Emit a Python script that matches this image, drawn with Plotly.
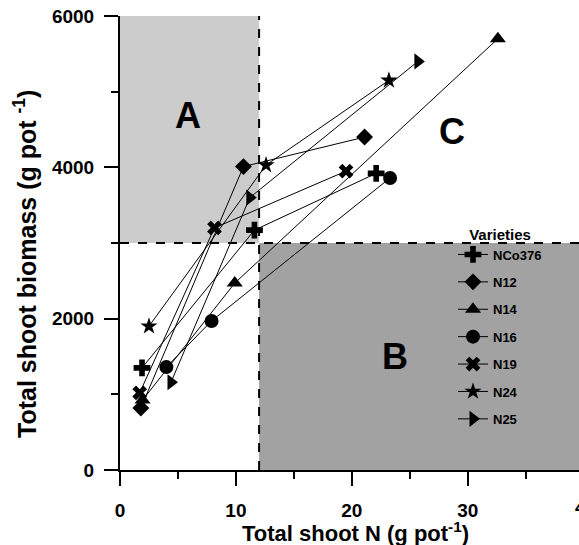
import plotly.graph_objects as go

# ---- data ----
varieties = ["NCo376", "N12", "N14", "N16", "N19", "N24", "N25"]
symbols = ["cross", "diamond", "triangle-up", "circle", "x", "star", "triangle-right"]
sizes = [14, 13, 14, 14, 13, 13, 14]
shoot_n = {
    "NCo376": [1.9, 11.6, 22.1],
    "N12": [1.8, 10.65, 21.1],
    "N14": [1.95, 9.9, 32.6],
    "N16": [4.0, 7.9, 23.3],
    "N19": [1.7, 8.15, 19.5],
    "N24": [2.5, 12.6, 23.2],
    "N25": [4.4, 11.2, 25.7],
}
biomass = {
    "NCo376": [1350, 3170, 3920],
    "N12": [820, 4010, 4400],
    "N14": [925, 2470, 5700],
    "N16": [1360, 1970, 3860],
    "N19": [1020, 3200, 3950],
    "N24": [1900, 4030, 5150],
    "N25": [1160, 3600, 5400],
}
x_ticks = [0, 10, 20, 30]
y_ticks = [0, 2000, 4000, 6000]
X_MAX = 39.6
Y_MAX = 6000
N_SPLIT = 12
B_SPLIT = 3000
region_labels = ["A", "B", "C"]
region_x = [5.9, 23.7, 28.6]
region_y = [4680, 1500, 4470]

FONT = "Liberation Sans, Arial"

fig = go.Figure()
for i, v in enumerate(varieties):
    fig.add_trace(go.Scatter(
        x=shoot_n[v], y=biomass[v], name=v, mode="lines+markers",
        line=dict(color="black", width=1),
        marker=dict(symbol=symbols[i], size=sizes[i], color="black"),
        legendgroup=v,
    ))

# shaded regions
fig.add_shape(type="rect", xref="x", yref="y", x0=0, x1=N_SPLIT, y0=B_SPLIT, y1=Y_MAX,
              fillcolor="#cccccc", line=dict(width=0), layer="below")
fig.add_shape(type="rect", xref="x", yref="y", x0=N_SPLIT, x1=X_MAX, y0=0, y1=B_SPLIT,
              fillcolor="#a2a2a2", line=dict(width=0), layer="below")
dash = dict(color="black", width=2, dash="dash")
fig.add_shape(type="line", xref="x", yref="y", x0=N_SPLIT, x1=N_SPLIT, y0=0, y1=Y_MAX, line=dash, layer="below")
fig.add_shape(type="line", xref="x", yref="y", x0=0, x1=X_MAX, y0=B_SPLIT, y1=B_SPLIT, line=dash, layer="below")

for t, xx, yy in zip(region_labels, region_x, region_y):
    fig.add_annotation(x=xx, y=yy, text=t, showarrow=False,
                       font=dict(family=FONT, size=36, color="black", weight="bold"))

# axis titles
fig.add_annotation(xref="paper", yref="paper", x=(355 - 120) / 459, y=-(532 - 470) / 454,
                   xanchor="center", yanchor="middle",
                   text="Total shoot N (g pot<sup>-1</sup>)", showarrow=False,
                   font=dict(family=FONT, size=22, color="black", weight="bold"))
fig.add_annotation(xref="paper", yref="paper", x=-(120 - 25) / 459, y=(470 - 264) / 454,
                   xanchor="center", yanchor="middle",
                   text="Total shoot biomass (g pot <sup>-1</sup>)", showarrow=False, textangle=-90,
                   font=dict(family=FONT, size=25, color="black", weight="bold"))
# partially visible 40 tick label at the right edge
fig.add_annotation(xref="paper", yref="paper", x=(573 - 120) / 459, y=0, yshift=-37,
                   xanchor="left", yanchor="middle",
                   text="40", showarrow=False,
                   font=dict(family=FONT, size=19, color="black", weight="bold"))

tickfont = dict(family=FONT, size=19, color="black", weight="bold")
fig.update_xaxes(range=[0, X_MAX], tickvals=x_ticks, ticks="outside", ticklen=14, tickwidth=2,
                 tickcolor="black", showline=True, linecolor="black", linewidth=2,
                 showgrid=False, zeroline=False, tickfont=tickfont, ticklabelstandoff=8,
                 minor=dict(dtick=5, ticks="outside", ticklen=7, tickwidth=2, tickcolor="black", showgrid=False))
fig.update_yaxes(range=[0, Y_MAX], tickvals=y_ticks, ticks="outside", ticklen=14, tickwidth=2,
                 tickcolor="black", showline=True, linecolor="black", linewidth=2,
                 showgrid=False, zeroline=False, tickfont=tickfont, ticklabelstandoff=6,
                 minor=dict(dtick=1000, ticks="outside", ticklen=7, tickwidth=2, tickcolor="black", showgrid=False))

fig.update_layout(
    width=579, height=545,
    margin=dict(l=120, r=0, t=16, b=75),
    plot_bgcolor="white", paper_bgcolor="white",
    showlegend=True,
    legend=dict(
        x=(453 - 120) / 459, y=(470 - 220) / 454, xanchor="left", yanchor="top",
        bgcolor="rgba(0,0,0,0)", tracegroupgap=7.5,
        title=dict(text="Varieties", side="top center",
                   font=dict(family=FONT, size=15, color="black", weight="bold")),
        font=dict(family=FONT, size=13, color="black", weight="bold"),
    ),
)
fig.write_html("out.html")
